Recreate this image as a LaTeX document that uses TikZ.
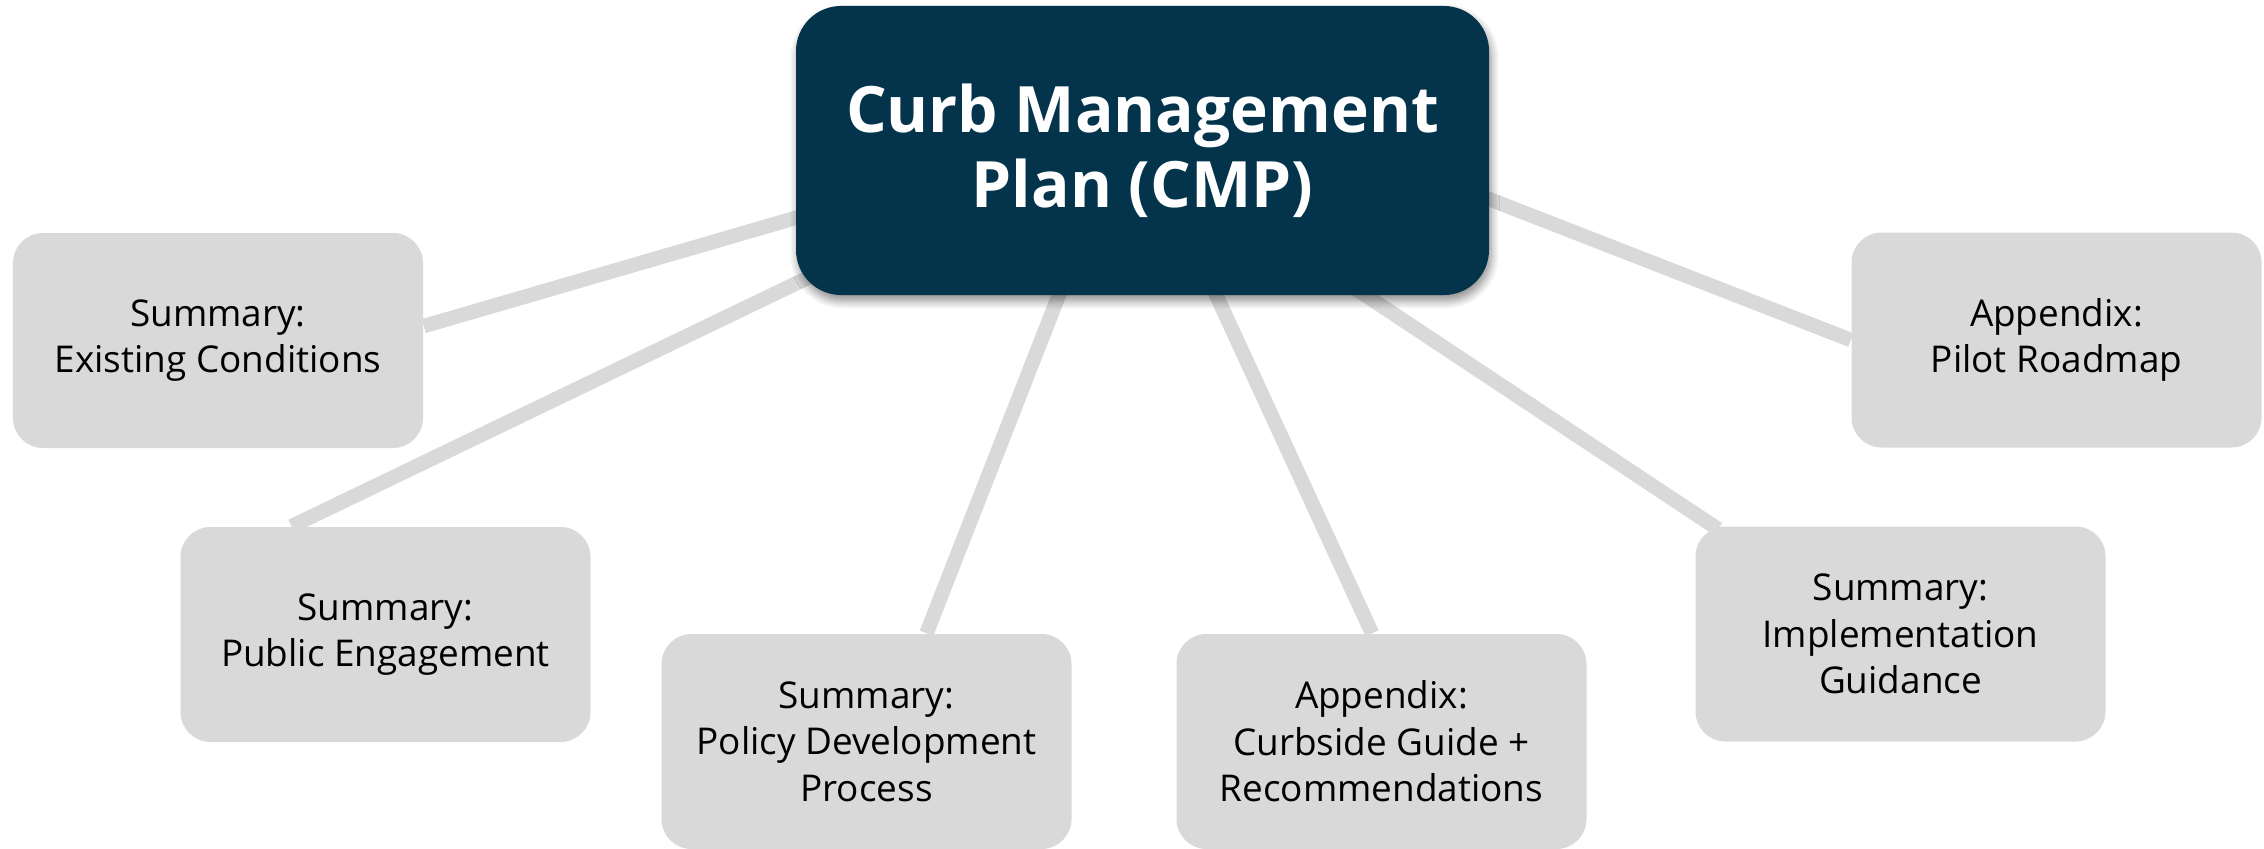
\documentclass[tikz,border=0pt]{standalone}
\usepackage{fontspec}
\setmainfont{Open Sans}
\usetikzlibrary{calc,backgrounds,shadows.blur}
\definecolor{cmpnavy}{RGB}{3,52,75}
\definecolor{boxgray}{RGB}{217,217,217}
\tikzset{
	hub/.style={rectangle, rounded corners=0.45cm, fill=cmpnavy, minimum width=6.93cm, minimum height=2.89cm, inner sep=0pt, align=center, text=white, font=\fontsize{18.2}{21.3}\selectfont\bfseries, blur shadow={shadow xshift=0.02cm, shadow yshift=-0.06cm, shadow blur radius=0.08cm, shadow blur steps=8, shadow opacity=45}},
	topic/.style={rectangle, rounded corners=0.3cm, fill=boxgray, minimum width=4.1cm, minimum height=2.15cm, inner sep=0pt, align=center, text=black, font=\fontsize{10.5}{13.2}\selectfont},
	spoke/.style={draw=boxgray, line width=0.145cm, shorten <=-0.3cm}
}
\begin{document}
\begin{tikzpicture}
	\useasboundingbox (0,0) rectangle (22.64,8.48);
	\node[hub] (cmp) at (11.425,6.975) {Curb Management\\Plan (CMP)};
	\node[topic] (exist) at (2.18,5.075) {Summary:\\Existing Conditions};
	\node[topic] (public) at (3.855,2.135) {Summary:\\Public Engagement};
	\node[topic] (policy) at (8.665,1.065) {Summary:\\Policy Development\\Process};
	\node[topic] (curb) at (13.815,1.065) {Appendix:\\Curbside Guide +\\Recommendations};
	\node[topic] (impl) at (19.005,2.14) {Summary:\\Implementation\\Guidance};
	\node[topic] (pilot) at (20.565,5.08) {Appendix:\\Pilot Roadmap};
	% spokes behind the boxes
	\begin{scope}[on background layer]
		\draw[spoke] (cmp.191.8) -- (exist.4.3);
		\draw[spoke] (cmp.201.4) -- (public.131.3);
		\draw[spoke] (cmp.240) -- (policy.61.6);
		\draw[spoke] (cmp.297.3) -- (curb.95.5);
		\draw[spoke, shorten >=-0.06cm] (cmp.327.6) -- (impl.150.4);
		\draw[spoke] (cmp.-8.1) -- (pilot.west);
	\end{scope}
\end{tikzpicture}
\end{document}
